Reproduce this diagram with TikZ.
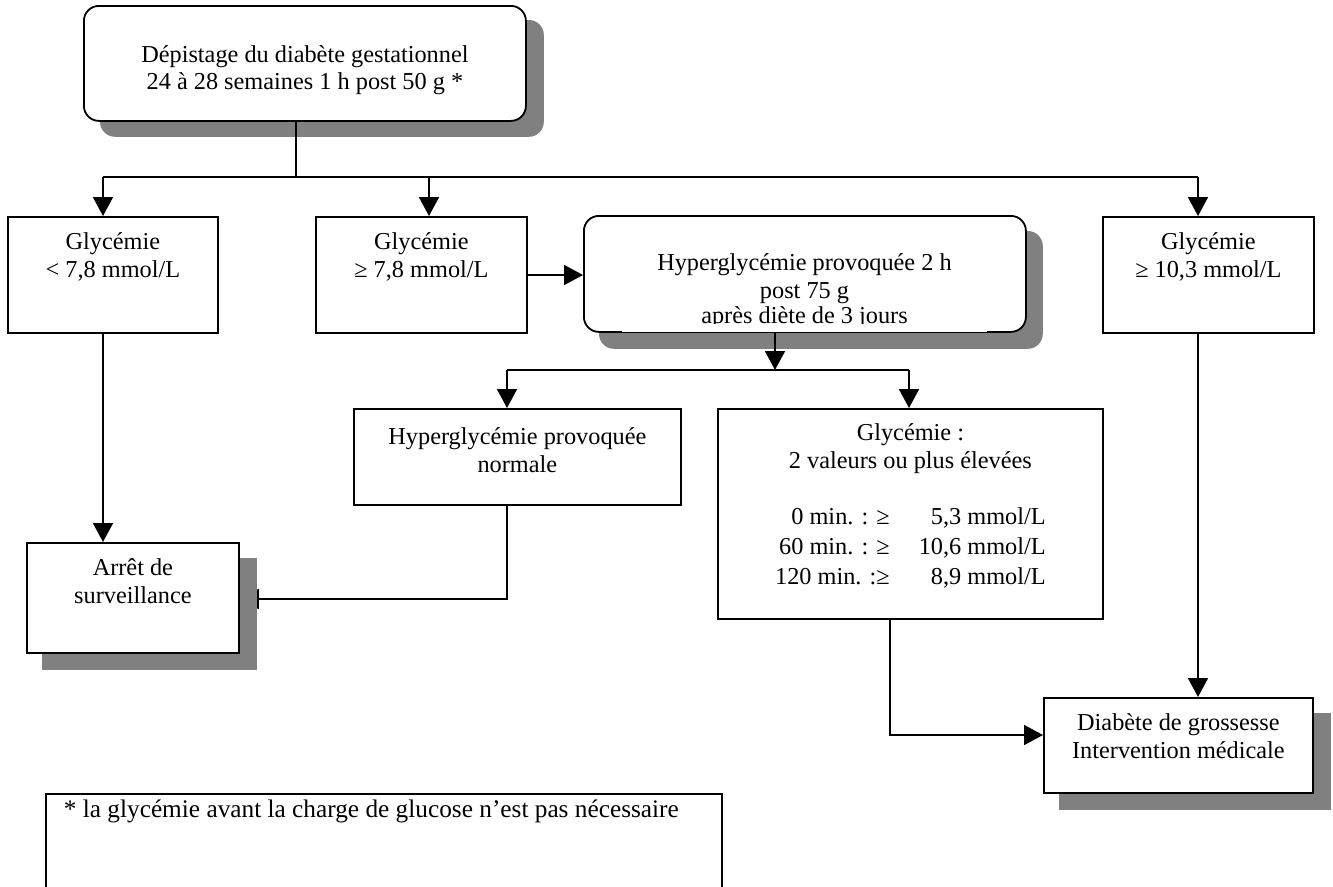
\documentclass[tikz,border=0pt]{standalone}
\usepackage{fontspec}
\setmainfont{Liberation Serif}
\usetikzlibrary{arrows.meta,calc}
\pgfdeclarelayer{under}
\pgfdeclarelayer{shad}
\pgfsetlayers{under,shad,main}
\newcommand{\boxtext}[4]{\parbox[c][#2][t]{#1}{\centering\rule{0pt}{#3}#4\par}}
\definecolor{shadowgray}{HTML}{808080}
\begin{document}
\begin{tikzpicture}[x=1pt,y=-1pt,
  font=\fontsize{24.3}{28}\selectfont,
  flowbox/.style={draw=black, fill=white, line width=1.8pt, inner sep=0pt, anchor=north west},
  roundbox/.style={flowbox, rounded corners=15pt},
  conn/.style={line width=1.8pt},
  arr/.style={conn, -{Triangle[length=19pt,width=20pt]}},
  shadowfill/.style={fill=shadowgray}]
\useasboundingbox (0,0) rectangle (1333,886);

% boxes
\node[roundbox] (top) at (83,5) {\boxtext{442pt}{115pt}{57pt}{D\'epistage du diab\`ete gestationnel\\[-1pt]24 \`a 28 semaines 1 h post 50 g *}};
\node[flowbox] (b1) at (7,216) {\boxtext{210pt}{116pt}{33pt}{Glyc\'emie\\< 7,8 mmol/L}};
\node[flowbox] (b2) at (315,216) {\boxtext{211pt}{116pt}{33pt}{Glyc\'emie\\≥ 7,8 mmol/L}};
\node[flowbox] (b3) at (1102,216) {\boxtext{211pt}{116pt}{33pt}{Glyc\'emie\\≥ 10,3 mmol/L}};
\node[roundbox] (hyp) at (583,215) {\parbox[c][116pt][t]{442pt}{\mbox{}}};
\fill[white] (622,218) rectangle (987,332.2);
\begin{scope}
  \clip (622,218) rectangle (987,323.5);
  \node[inner sep=0pt, anchor=north] (hyptext) at (804.5,218) {\boxtext{365pt}{125pt}{52pt}{Hyperglyc\'emie provoqu\'ee 2 h\\post 75 g\\[-3pt]apr\`es di\`ete de 3 jours}};
\end{scope}
\node[flowbox] (nor) at (353,408) {\boxtext{327pt}{96pt}{36pt}{Hyperglyc\'emie provoqu\'ee\\normale}};
\node[flowbox] (val) at (717,408) {\boxtext{385pt}{210pt}{32pt}{Glyc\'emie :\\2 valeurs ou plus \'elev\'ees\\[28pt]%
  \renewcommand{\arraystretch}{1.07}\setlength{\tabcolsep}{0pt}%
  \begin{tabular}[t]{r@{\hspace{29pt}}r}
  0 min. : ≥ & 5,3 mmol/L\\
  60 min. : ≥ & 10,6 mmol/L\\
  120 min. :≥ & 8,9 mmol/L
  \end{tabular}}};
\node[flowbox] (diab) at (1043,697) {\boxtext{269pt}{95pt}{33pt}{Diab\`ete de grossesse\\Intervention m\'edicale}};
\node[flowbox] (arret) at (26,542) {\boxtext{212pt}{110pt}{33pt}{Arr\^et de\\surveillance}};
\node[flowbox] (fn) at (45,793) {\parbox[c][110pt][t]{676pt}{\fontsize{25.3}{29}\selectfont\raggedright\hspace*{18pt}\rule{0pt}{24pt}* la glyc\'emie avant la charge de glucose n’est pas n\'ecessaire\par}};

% shadows
\begin{pgfonlayer}{shad}
  \fill[shadowfill, rounded corners=15pt] ($(top.north west)+(17,15)$) rectangle ($(top.south east)+(17,15)$);
  \fill[shadowfill, rounded corners=15pt] ($(hyp.north west)+(16,16)$) rectangle ($(hyp.south east)+(16,16)$);
  \fill[shadowfill] ($(arret.north west)+(16,16)$) rectangle ($(arret.south east)+(17,16)$);
  \fill[shadowfill] ($(diab.north west)+(16,16)$) rectangle ($(diab.south east)+(17,16)$);
\end{pgfonlayer}

% connector coordinates
\coordinate (ts) at (296,177);
\coordinate (bl) at (103,177);
\coordinate (bm) at (429,177);
\coordinate (br) at (1198,177);
\coordinate (hy) at (0,275);
\coordinate (hs) at (775,370);
\coordinate (hl) at (507,370);
\coordinate (hr) at (909,370);
\coordinate (nx) at (507,599);
\coordinate (vx) at (890,735);

% connectors
\draw[conn] (top.south -| ts) -- (ts);
\draw[conn] (bl) -- (br);
\draw[arr] (bl) -- (b1.north -| bl);
\draw[arr] (bm) -- (b2.north -| bm);
\draw[arr] (br) -- (b3.north -| br);
\draw[arr] (b2.east |- hy) -- (hyp.west |- hy);
\draw[arr] (hyp.south -| hs) -- (hs);
\draw[conn] (hl) -- (hr);
\draw[arr] (hl) -- (nor.north -| hl);
\draw[arr] (hr) -- (val.north -| hr);
\draw[arr] (b1.south -| bl) -- (arret.north -| bl);
\begin{pgfonlayer}{under}
  \draw[arr] (nor.south -| nx) |- (arret.east |- nx);
\end{pgfonlayer}
\draw[arr] (val.south -| vx) |- (diab.west |- vx);
\draw[arr] (b3.south -| br) -- (diab.north -| br);
\end{tikzpicture}
\end{document}
